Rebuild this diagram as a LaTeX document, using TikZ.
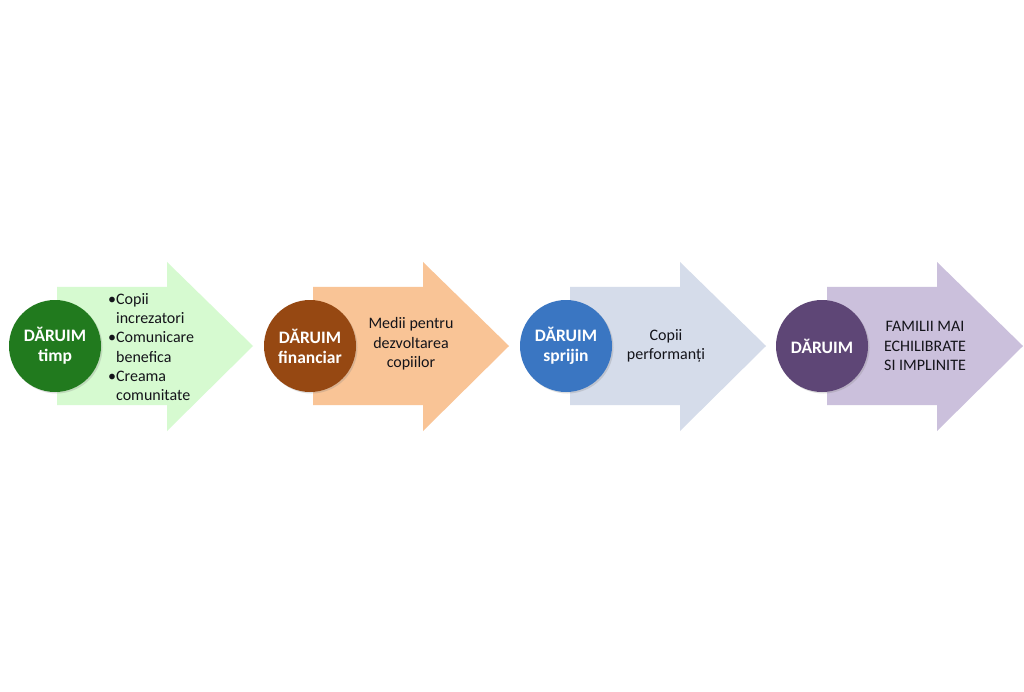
\documentclass[tikz,border=0pt]{standalone}
\usepackage{fontspec}
\setmainfont{Carlito}
\usetikzlibrary{shadows}

\definecolor{timpDark}{RGB}{33,122,30}
\definecolor{timpLight}{RGB}{214,250,208}
\definecolor{finDark}{RGB}{150,72,18}
\definecolor{finLight}{RGB}{249,196,150}
\definecolor{sprDark}{RGB}{58,118,194}
\definecolor{sprLight}{RGB}{213,220,234}
\definecolor{famDark}{RGB}{94,70,118}
\definecolor{famLight}{RGB}{203,192,220}
\definecolor{txt}{RGB}{20,20,26}

\tikzset{
    stage/.style={circle, minimum size=92pt, inner sep=0pt, text=white, align=center,
        font=\fontsize{17.5}{20}\selectfont\bfseries,
        drop shadow={opacity=0.25, shadow xshift=1.5pt, shadow yshift=-1.5pt}},
    result/.style={text=txt, align=center, inner sep=0pt,
        font=\fontsize{16}{19.3}\selectfont}
}

\begin{document}
\begin{tikzpicture}[x=1pt,y=-1pt]
    \useasboundingbox[fill=white] (0,0) rectangle (1024,692);

    % Arrows
    \foreach \x/\col in {57/timpLight, 313/finLight, 570/sprLight, 827/famLight}{
        \fill[\col] (\x,287) -- ({\x+110},287) -- ({\x+110},262) -- ({\x+196},346)
            -- ({\x+110},431) -- ({\x+110},405) -- (\x,405) -- cycle;
    }

    % Circles
    \node[stage, fill=timpDark] (timp) at (55,346) {DĂRUIM\\timp};
    \node[stage, fill=finDark] (fin) at (310,346) {DĂRUIM\\financiar};
    \node[stage, fill=sprDark] (spr) at (566,346) {DĂRUIM\\sprijin};
    \node[stage, fill=famDark] (fam) at (822,346) {DĂRUIM};

    % Labels
    \node[result, align=left, anchor=west] (timpTxt) at (108,347)
        {\textbullet Copii\\\phantom{\textbullet}increzatori\\\textbullet Comunicare\\
         \phantom{\textbullet}benefica\\\textbullet Creama\\\phantom{\textbullet}comunitate};
    \node[result] (finTxt) at (411,344) {Medii pentru\\dezvoltarea\\copiilor};
    \node[result] (sprTxt) at (666,346) {Copii\\performanți};
    \node[result] (famTxt) at (925,346) {FAMILII MAI\\ECHILIBRATE\\SI IMPLINITE};

\end{tikzpicture}
\end{document}
